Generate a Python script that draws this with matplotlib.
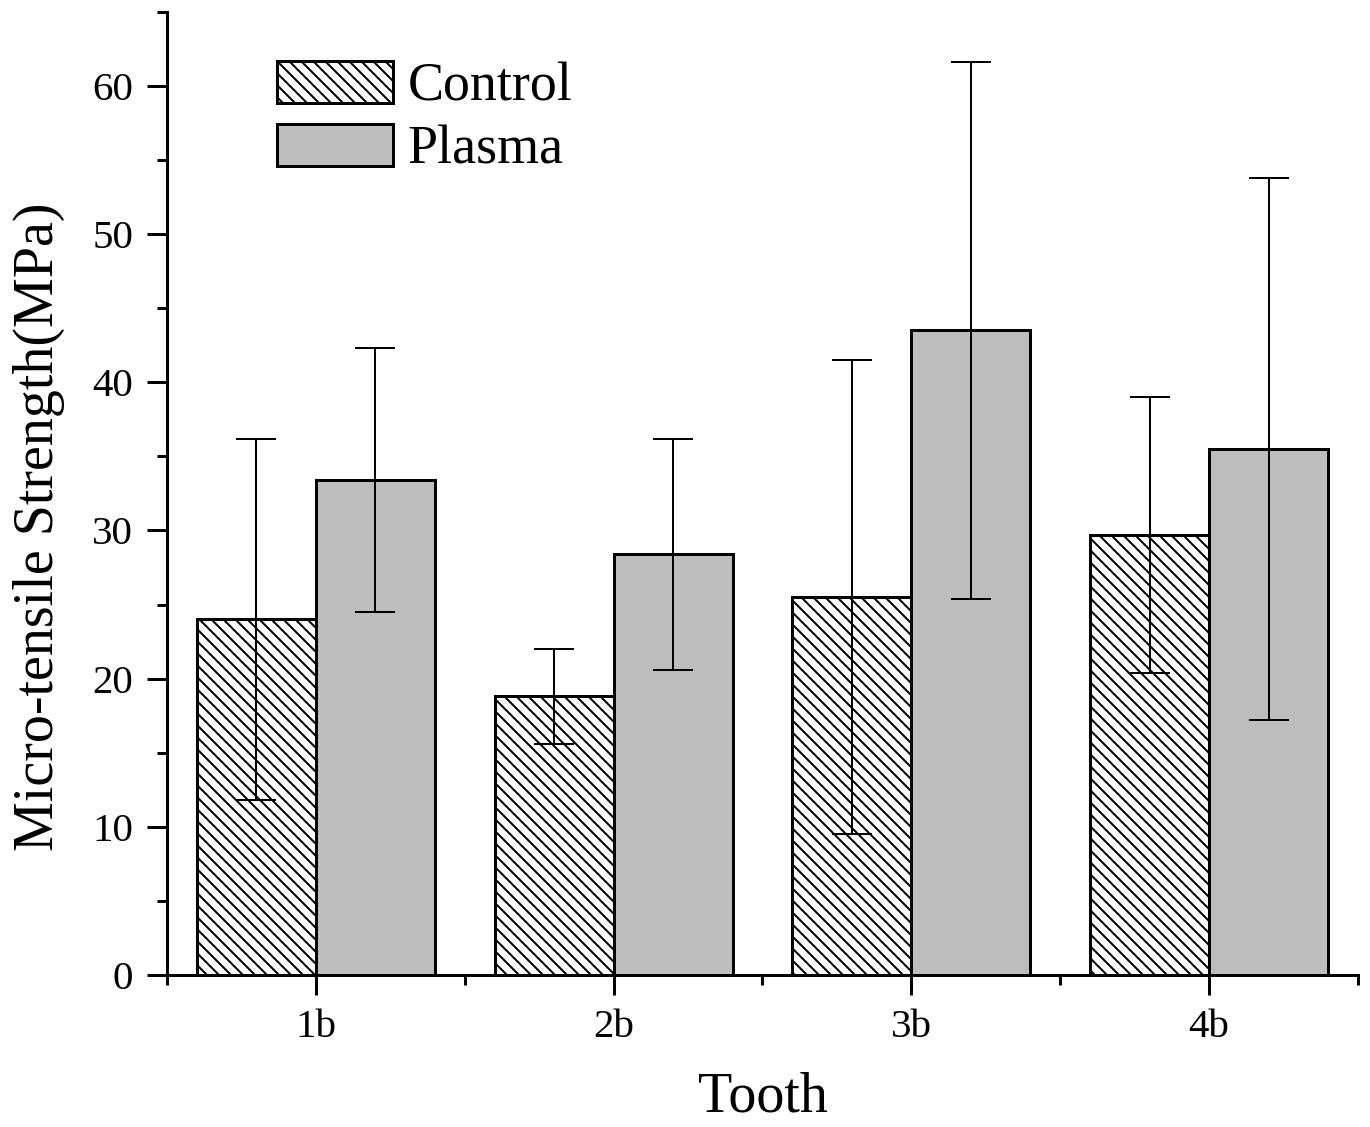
import numpy as np
import matplotlib
matplotlib.use('Agg')
import matplotlib.pyplot as plt
from matplotlib.ticker import MultipleLocator

# datos (MPa)
dientes = ['1b', '2b', '3b', '4b']
control = [24.0, 18.8, 25.5, 29.7]
control_err = [12.2, 3.2, 16.0, 9.3]
plasma = [33.4, 28.4, 43.5, 35.5]
plasma_err = [8.9, 7.8, 18.1, 18.3]

plt.rcParams['font.family'] = ['Liberation Serif', 'DejaVu Serif']
plt.rcParams['hatch.linewidth'] = 1.0

fig = plt.figure(figsize=(1370 / 144, 1127 / 144), dpi=144)
ax = fig.add_axes([0.1219, 0.1349, 0.8693, 0.8545])

x = np.arange(1, len(dientes) + 1)
w = 0.4

ax.bar(x - w / 2, control, w, color='white', edgecolor='black', linewidth=1.5,
       hatch='\\\\\\\\', label='Control', zorder=2)
ax.bar(x + w / 2, plasma, w, color='#bdbdbd', edgecolor='black', linewidth=1.5,
       label='Plasma', zorder=2)
ax.errorbar(x - w / 2, control, yerr=control_err, fmt='none', ecolor='black',
            elinewidth=1.0, capsize=10, capthick=1.0, zorder=3)
ax.errorbar(x + w / 2, plasma, yerr=plasma_err, fmt='none', ecolor='black',
            elinewidth=1.0, capsize=10, capthick=1.0, zorder=3)

ax.set_xlim(0.5, 4.5)
ax.set_ylim(0, 65)
ax.set_xticks(x)
ax.set_xticklabels(dientes)
ax.xaxis.set_minor_locator(MultipleLocator(1.0, offset=0.5))
ax.yaxis.set_major_locator(MultipleLocator(10))
ax.yaxis.set_minor_locator(MultipleLocator(5))

for s in ['top', 'right']:
    ax.spines[s].set_visible(False)
for s in ['left', 'bottom']:
    ax.spines[s].set_linewidth(1.5)

ax.tick_params(which='major', direction='out', length=10, width=1.5,
               labelsize=20.5, pad=7)
ax.tick_params(which='minor', direction='out', length=5, width=1.5)

ax.set_xlabel('Tooth', fontsize=28, labelpad=13)
ax.set_ylabel('Micro-tensile Strength(MPa)', fontsize=28)
ax.yaxis.set_label_coords(-0.086, 0.465)

ax.legend(loc='upper left', bbox_to_anchor=(0.074, 0.972), frameon=False,
          fontsize=27, handlelength=2.15, handleheight=0.82, handletextpad=0.27,
          labelspacing=0.22, borderaxespad=0)

fig.savefig('out.png', dpi=144)
